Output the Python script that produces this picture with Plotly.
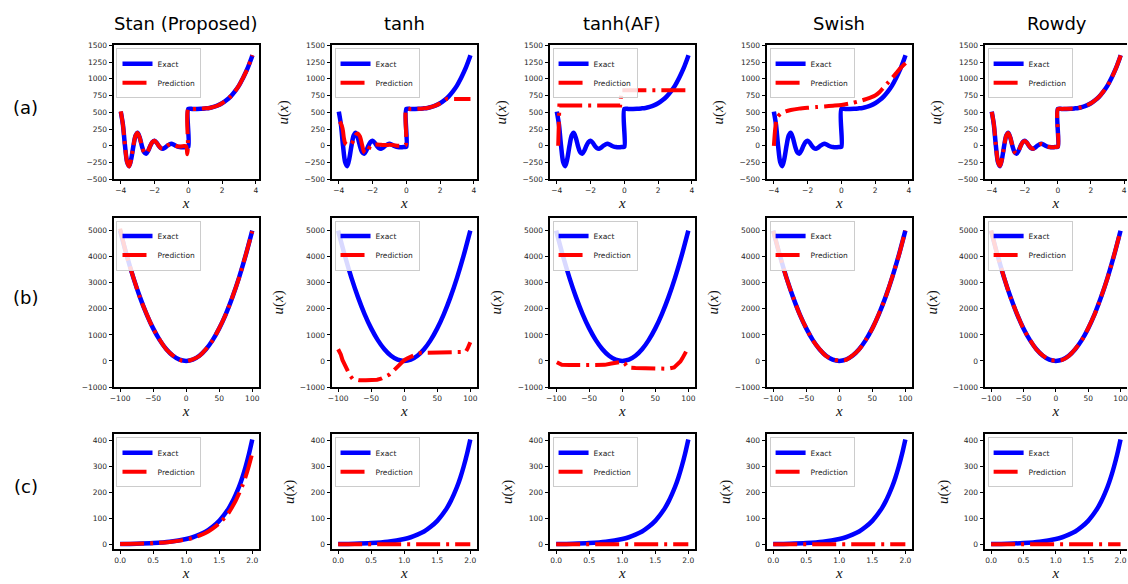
import plotly.graph_objects as go

W, H = 1128, 584

COL_TITLES = ["Stan (Proposed)", "tanh", "tanh(AF)", "Swish", "Rowdy"]
ROW_LABELS = ["(a)", "(b)", "(c)"]

# ---------------- Row (a) ----------------
XA = [-4.0, -3.875, -3.75, -3.625, -3.5, -3.375, -3.25, -3.125,
      -3.0, -2.875, -2.75, -2.625, -2.5, -2.375, -2.25, -2.125,
      -2.0, -1.875, -1.75, -1.625, -1.5, -1.375, -1.25, -1.125,
      -1.0, -0.875, -0.75, -0.625, -0.5, -0.375, -0.25, -0.125,
      0.0, 0.0, 0.25, 0.5, 0.75, 1.0, 1.25, 1.5, 1.75,
      2.0, 2.25, 2.5, 2.75, 3.0, 3.25, 3.5, 3.75, 3.8]
UA_EXACT = [510, 320, 0, -244, -305, -190, 0, 150,
            195, 120, 0, -93, -120, -74, 0, 56,
            75, 47, 0, -34, -44, -28, 0, 20,
            29, 18, 0, -12, -18, -22, -22, -18,
            -15, 550, 550, 551, 553, 558, 565, 581, 603,
            635, 679, 735, 809, 899, 1016, 1151, 1316, 1351]

XA_STAN = [-4.0, -3.875, -3.75, -3.625, -3.5, -3.375, -3.25, -3.125,
           -3.0, -2.875, -2.75, -2.625, -2.5, -2.375, -2.25, -2.125,
           -2.0, -1.875, -1.75, -1.625, -1.5, -1.375, -1.25, -1.125,
           -1.0, -0.875, -0.75, -0.625, -0.5, -0.375, -0.25, -0.125,
           -0.06, -0.02, 0.0, 0.25, 0.5, 0.75, 1.0, 1.25, 1.5, 1.75,
           2.0, 2.25, 2.5, 2.75, 3.0, 3.25, 3.5, 3.75, 3.8]
UA_STAN = [515, 318, -3, -246, -308, -188, 3, 151,
           193, 118, -2, -95, -118, -72, 2, 57,
           74, 45, -1, -35, -43, -29, 1, 19,
           27, 16, 2, -10, -12, -8, -5, -10,
           -125, -15, 552, 549, 550, 554, 559, 564, 582, 602,
           636, 678, 736, 808, 900, 1018, 1148, 1318, 1352]

XA_TANH = [-3.95, -3.875, -3.8, -3.75, -3.7, -3.625, -3.5, -3.375, -3.25,
           -3.125, -3.0, -2.875, -2.75, -2.625, -2.5, -2.375, -2.25, -2.125,
           -2.0, -1.75, -1.5, -1.25, -1.0, -0.75, -0.5, -0.25, -0.05, 0.0,
           0.25, 0.5, 0.75, 1.0, 1.25, 1.5, 1.75, 2.0, 2.25, 2.4,
           2.75, 3.0, 3.25, 3.5, 3.8]
UA_TANH = [360, 330, 280, 220, 120, 40, 15, 15, 25,
           90, 160, 185, 140, 20, -90, -110, -60, 0,
           15, 20, 15, 10, 15, 10, 0, 0, 5, 550,
           550, 551, 553, 558, 565, 581, 603, 635, 679, 700,
           700, 700, 700, 700, 700]

XA_TANHAF = [-3.92, -3.9, -3.88, -3.85, -3.5, -3.0, -2.0, -1.0, -0.5,
             -0.25, -0.2, -0.15, 0.0, 1.0, 2.0, 3.0, 3.8]
UA_TANHAF = [0, 250, 480, 600, 600, 600, 600, 600, 600,
             600, 730, 830, 830, 830, 830, 830, 830]

XA_SWISH = [-4.0, -3.9, -3.8, -3.6, -3.3, -3.0, -2.5, -2.0, -1.5, -1.0, -0.5,
            0.0, 0.5, 1.0, 1.5, 2.0, 2.25, 2.5, 2.75, 3.0, 3.25, 3.5, 3.8]
UA_SWISH = [0, 300, 420, 480, 515, 535, 555, 568, 578, 588, 598,
            610, 632, 662, 700, 750, 800, 870, 940, 1010, 1085, 1160, 1235]

UA_ROWDY = [505, 325, 5, -240, -300, -195, -5, 148,
            192, 122, 3, -90, -118, -76, -2, 55,
            73, 48, 2, -33, -45, -27, 1, 21,
            28, 17, -1, -13, -19, -21, -23, -17,
            -14, 548, 551, 552, 554, 557, 566, 580, 604,
            634, 680, 734, 810, 898, 1015, 1150, 1314, 1349]

# ---------------- Row (b) ----------------
XB = [-100, -90, -80, -70, -60, -50, -40, -30, -20, -10, 0,
      10, 20, 30, 40, 50, 60, 70, 80, 90, 100]
UB_EXACT = [5000, 4050, 3200, 2450, 1800, 1250, 800, 450, 200, 50, 0,
            50, 200, 450, 800, 1250, 1800, 2450, 3200, 4050, 5000]
UB_STAN = [5080, 4040, 3210, 2440, 1810, 1240, 810, 440, 210, 40, -10,
           60, 190, 460, 790, 1260, 1790, 2460, 3190, 4060, 4980]
XB_TANH = [-100, -96, -93.5, -90, -86, -82, -78, -73, -68, -58, -48, -41,
           -35, -29, -23, -18, -12.5, -8, -5, 0, 5, 11, 17.6, 22, 27.6,
           35, 47.7, 60, 75, 88, 93, 96, 98, 100]
UB_TANH = [450, 250, 40, -150, -380, -560, -690, -730, -740, -745, -740, -720,
           -680, -620, -530, -420, -280, -160, -60, 30, 100, 180, 260, 300, 315,
           315, 315, 315, 315, 315, 350, 480, 660, 720]
XB_TANHAF = [-99, -95, -91.5, -80, -66.5, -50, -35, -26.5, -16.5, -6.5, 0,
             4, 8.5, 20, 43.5, 60, 68.5, 78.5, 83.5, 88, 91, 94, 96, 97]
UB_TANHAF = [-50, -120, -150, -160, -160, -160, -155, -150, -100, -50, -25,
             -100, -250, -270, -280, -290, -300, -250, -150, -20, 100, 230, 350, 380]
UB_SWISH = [4990, 4060, 3190, 2460, 1790, 1260, 790, 460, 190, 60, 10,
            40, 210, 440, 810, 1240, 1810, 2440, 3210, 4040, 5010]
UB_ROWDY = [5010, 4040, 3210, 2440, 1810, 1240, 810, 440, 210, 40, 20,
            40, 190, 460, 790, 1260, 1790, 2460, 3190, 4060, 4990]

# ---------------- Row (c) ----------------
XC = [0.0, 0.25, 0.5, 0.75, 1.0, 1.1, 1.2, 1.3, 1.4, 1.5,
      1.55, 1.6, 1.65, 1.7, 1.75, 1.8, 1.85, 1.9, 1.95, 2.0]
UC_EXACT = [1, 2.1, 4.5, 9.5, 20, 27, 37, 49, 67, 90,
            105, 122, 141, 164, 191, 221, 257, 299, 347, 403]
UC_STAN = [1, 2, 4, 9, 18, 24, 33, 44, 60, 80,
           93, 108, 124, 145, 168, 195, 225, 260, 302, 350]
XC_FLAT = [0.0, 0.5, 1.0, 1.5, 2.0]
UC_TANH = [0, 0, 0, 0, 0]
UC_TANHAF = [0, 0, 0, 0, 0]
UC_SWISH = [0, 0, 0, 0, 0]
UC_ROWDY = [0, 0, 0, 0, 0]

PANELS = [
    [(XA, UA_EXACT, XA_STAN, UA_STAN), (XA, UA_EXACT, XA_TANH, UA_TANH),
     (XA, UA_EXACT, XA_TANHAF, UA_TANHAF), (XA, UA_EXACT, XA_SWISH, UA_SWISH),
     (XA, UA_EXACT, XA, UA_ROWDY)],
    [(XB, UB_EXACT, XB, UB_STAN), (XB, UB_EXACT, XB_TANH, UB_TANH),
     (XB, UB_EXACT, XB_TANHAF, UB_TANHAF), (XB, UB_EXACT, XB, UB_SWISH),
     (XB, UB_EXACT, XB, UB_ROWDY)],
    [(XC, UC_EXACT, XC, UC_STAN), (XC, UC_EXACT, XC_FLAT, UC_TANH),
     (XC, UC_EXACT, XC_FLAT, UC_TANHAF), (XC, UC_EXACT, XC_FLAT, UC_SWISH),
     (XC, UC_EXACT, XC_FLAT, UC_ROWDY)],
]
# line shape of the prediction in each panel (step-like fits stay linear)
PRED_SHAPE = [["spline", "spline", "linear", "spline", "spline"],
              ["spline", "linear", "linear", "spline", "spline"],
              ["spline", "linear", "linear", "linear", "linear"]]

# ---------------- layout geometry (pixels) ----------------
COL_LEFT = [110, 329, 548, 766, 985]
COL_RIGHT = [256, 475, 694, 912, 1128]
ROW_TOP = [42, 217, 437]
ROW_BOT = [178, 389, 554]

X_RANGES = [[-4.43, 4.18], [-110, 110], [-0.1, 2.1]]
Y_RANGES = [[-500, 1500], [-1000, 5500], [-20, 423]]
X_DTICK = [2, 50, 0.5]
X_FMT = ["", "", ".1f"]
Y_DTICK = [250, 1000, 100]

BLUE = "#0000ff"
RED = "#ff0000"
DASHDOT = "24px,6px,3px,6px"
TICK_FONT = dict(family="DejaVu Sans", size=7.5, color="#262626")
MATH_FONT = dict(family="Liberation Serif", size=15, color="#111111")

fig = go.Figure()
layout = dict(width=W, height=H, margin=dict(l=0, r=0, t=0, b=0),
              paper_bgcolor="white", plot_bgcolor="white", showlegend=True)
annotations = []

for r in range(3):
    for c in range(5):
        k = r * 5 + c + 1
        sfx = "" if k == 1 else str(k)
        xe, ye, xp, yp = PANELS[r][c]
        lg = "legend" + sfx
        fig.add_trace(go.Scatter(x=xe, y=ye, mode="lines", name="Exact",
                                 line=dict(color=BLUE, width=4.5, shape="spline",
                                           smoothing=0.8),
                                 xaxis="x" + sfx, yaxis="y" + sfx, legend=lg))
        fig.add_trace(go.Scatter(x=xp, y=yp, mode="lines", name="Prediction",
                                 line=dict(color=RED, width=4, dash=DASHDOT,
                                           shape=PRED_SHAPE[r][c], smoothing=0.8),
                                 xaxis="x" + sfx, yaxis="y" + sfx, legend=lg))
        x0, x1 = COL_LEFT[c] / W, COL_RIGHT[c] / W
        y0, y1 = 1 - ROW_BOT[r] / H, 1 - ROW_TOP[r] / H
        layout["xaxis" + sfx] = dict(
            domain=[x0, x1], anchor="y" + sfx, range=X_RANGES[r],
            dtick=X_DTICK[r], tick0=0, tickformat=X_FMT[r],
            showgrid=False, zeroline=False, showline=True, linecolor="black",
            linewidth=2, mirror=True, ticks="outside", ticklen=3, tickwidth=1,
            tickcolor="black", tickfont=TICK_FONT,
            title=dict(text="<i>x</i>", font=MATH_FONT, standoff=0))
        ytitle = "" if c == 0 else "<i>u</i>(<i>x</i>)"
        layout["yaxis" + sfx] = dict(
            domain=[y0, y1], anchor="x" + sfx, range=Y_RANGES[r],
            dtick=Y_DTICK[r], tick0=0,
            showgrid=False, zeroline=False, showline=True, linecolor="black",
            linewidth=2, mirror=(c != 4), ticks="outside", ticklen=3, tickwidth=1,
            tickcolor="black", tickfont=TICK_FONT,
            title=dict(text=ytitle, font=MATH_FONT, standoff=12))
        layout[lg] = dict(
            x=(COL_LEFT[c] + 3) / W, y=1 - (ROW_TOP[r] + 3) / H,
            xanchor="left", yanchor="top", xref="paper", yref="paper",
            bgcolor="rgba(255,255,255,0.85)", bordercolor="#cccccc", borderwidth=1,
            font=dict(family="DejaVu Sans", size=7.5, color="#222222"),
            itemwidth=30, tracegroupgap=0)

for c, t in enumerate(COL_TITLES):
    annotations.append(dict(text=t, x=(COL_LEFT[c] + 146 / 2) / W, y=1 - 20 / H,
                            xref="paper", yref="paper", showarrow=False,
                            xanchor="center", yanchor="middle",
                            font=dict(family="DejaVu Sans", size=18, color="black")))
for r, t in enumerate(ROW_LABELS):
    annotations.append(dict(text=t, x=22 / W, y=1 - (ROW_TOP[r] + ROW_BOT[r]) / 2 / H + 5 / H,
                            xref="paper", yref="paper", showarrow=False,
                            xanchor="center", yanchor="middle",
                            font=dict(family="DejaVu Sans", size=18, color="black")))

layout["annotations"] = annotations
fig.update_layout(**layout)
fig.write_html("out.html")
